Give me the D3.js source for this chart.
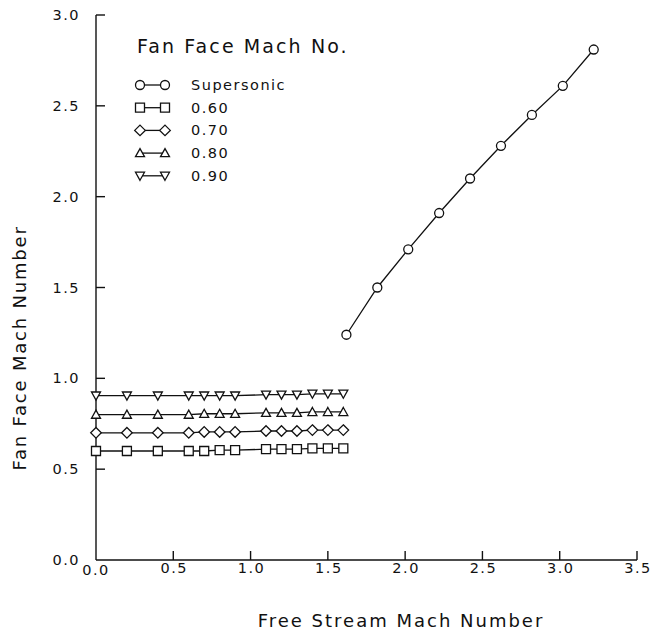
<!DOCTYPE html>
<html>
<head>
<meta charset="utf-8">
<script src="https://cdn.jsdelivr.net/npm/d3@7"></script>
<style>
  html, body { margin: 0; padding: 0; background: #fff; }
  svg { display: block; }
  text { font-family: "DejaVu Sans", sans-serif; fill: #111; }
</style>
</head>
<body>
<div id="chart"></div>
<script>
// ── Data ──
const subsonicX = [0.0, 0.2, 0.4, 0.6, 0.7, 0.8, 0.9, 1.1, 1.2, 1.3, 1.4, 1.5, 1.6];
const mach060 = [0.60, 0.60, 0.60, 0.60, 0.60, 0.605, 0.605, 0.61, 0.61, 0.61, 0.615, 0.615, 0.615];
const mach070 = [0.70, 0.70, 0.70, 0.70, 0.705, 0.705, 0.705, 0.71, 0.71, 0.71, 0.715, 0.715, 0.715];
const mach080 = [0.80, 0.80, 0.80, 0.80, 0.805, 0.805, 0.805, 0.81, 0.81, 0.81, 0.815, 0.815, 0.815];
const mach090 = [0.905, 0.905, 0.905, 0.905, 0.905, 0.905, 0.905, 0.91, 0.91, 0.91, 0.915, 0.915, 0.915];

const superX = [1.62, 1.82, 2.02, 2.22, 2.42, 2.62, 2.82, 3.02, 3.22];
const superY = [1.24, 1.50, 1.71, 1.91, 2.10, 2.28, 2.45, 2.61, 2.81];

const xTicks = [0, 0.5, 1.0, 1.5, 2.0, 2.5, 3.0, 3.5];
const yTicks = [0, 0.5, 1.0, 1.5, 2.0, 2.5, 3.0];

const seriesNames = ["Supersonic", "0.60", "0.70", "0.80", "0.90"];
const seriesSymbols = ["circle", "square", "diamond", "up", "down"];

const series = [
  { name: seriesNames[0], sym: seriesSymbols[0], xs: superX, ys: superY },
  { name: seriesNames[1], sym: seriesSymbols[1], xs: subsonicX, ys: mach060 },
  { name: seriesNames[2], sym: seriesSymbols[2], xs: subsonicX, ys: mach070 },
  { name: seriesNames[3], sym: seriesSymbols[3], xs: subsonicX, ys: mach080 },
  { name: seriesNames[4], sym: seriesSymbols[4], xs: subsonicX, ys: mach090 },
];

const W = 655, H = 642;
const x = d3.scaleLinear().domain([0, 3.5]).range([96, 637]);
const y = d3.scaleLinear().domain([0, 3.0]).range([560, 15]);

const svg = d3.select("#chart").append("svg")
  .attr("width", W).attr("height", H);

// symbol path around (0,0)
function symbolPath(sym) {
  const r = 4.5;
  switch (sym) {
    case "circle": return d3.symbol(d3.symbolCircle, Math.PI * r * r)();
    case "square": return `M${-r},${-r}H${r}V${r}H${-r}Z`;
    case "diamond": return `M0,${-r - 0.8}L${r + 0.8},0L0,${r + 0.8}L${-r - 0.8},0Z`;
    case "up": return `M0,${-r}L${r},${r * 0.8}L${-r},${r * 0.8}Z`;
    case "down": return `M0,${r}L${r},${-r * 0.8}L${-r},${-r * 0.8}Z`;
  }
}

// ── Axes ──
const axisG = svg.append("g").attr("stroke", "#111").attr("stroke-width", 1.4);
axisG.append("line")
  .attr("x1", x(0)).attr("x2", x(0)).attr("y1", y(3.0)).attr("y2", y(0));
axisG.append("line")
  .attr("x1", x(0)).attr("x2", x(3.5)).attr("y1", y(0)).attr("y2", y(0));

for (const t of yTicks.slice(1)) {
  axisG.append("line")
    .attr("x1", x(0)).attr("x2", x(0) + 9).attr("y1", y(t)).attr("y2", y(t));
}
for (const t of xTicks.slice(1)) {
  axisG.append("line")
    .attr("x1", x(t)).attr("x2", x(t)).attr("y1", y(0)).attr("y2", y(0) - 9);
}

svg.append("g").selectAll("text").data(yTicks).join("text")
  .attr("x", 80).attr("y", d => y(d) + 5)
  .attr("text-anchor", "end")
  .attr("font-size", 14.5)
  .attr("letter-spacing", 1.5)
  .text(d => d.toFixed(1));

svg.append("g").selectAll("text").data(xTicks).join("text")
  .attr("x", d => x(d) + (d === 0 ? 0 : 1)).attr("y", d => y(0) + (d === 0 ? 15 : 13))
  .attr("text-anchor", "middle")
  .attr("font-size", 14.5)
  .attr("letter-spacing", 1.5)
  .text(d => d.toFixed(1));

svg.append("text")
  .attr("transform", `translate(26,${348}) rotate(-90)`)
  .attr("text-anchor", "middle")
  .attr("font-size", 18)
  .attr("letter-spacing", 1.8)
  .text("Fan Face Mach Number");

svg.append("text")
  .attr("x", 401).attr("y", 627)
  .attr("text-anchor", "middle")
  .attr("font-size", 18)
  .attr("letter-spacing", 2)
  .text("Free Stream Mach Number");

// ── Series ──
const line = d3.line().x(d => x(d[0])).y(d => y(d[1]));
for (const s of series) {
  const pts = s.xs.map((v, i) => [v, s.ys[i]]);
  const g = svg.append("g");
  g.append("path")
    .attr("d", line(pts))
    .attr("fill", "none").attr("stroke", "#111").attr("stroke-width", 1.3);
  g.selectAll("path.m").data(pts).join("path")
    .attr("class", "m")
    .attr("transform", d => `translate(${x(d[0])},${y(d[1])})`)
    .attr("d", symbolPath(s.sym))
    .attr("fill", "#fff").attr("stroke", "#111").attr("stroke-width", 1.3);
}

// ── Legend ──
const legend = svg.append("g");
legend.append("text")
  .attr("x", 137).attr("y", 53)
  .attr("font-size", 19)
  .attr("letter-spacing", 2.1)
  .text("Fan Face Mach No.");
series.forEach((s, i) => {
  const cy = 85 + i * 22.7;
  legend.append("line")
    .attr("x1", 140).attr("x2", 165).attr("y1", cy).attr("y2", cy)
    .attr("stroke", "#111").attr("stroke-width", 1.3);
  for (const cx of [140, 165]) {
    legend.append("path")
      .attr("transform", `translate(${cx},${cy})`)
      .attr("d", symbolPath(s.sym))
      .attr("fill", "#fff").attr("stroke", "#111").attr("stroke-width", 1.3);
  }
  legend.append("text")
    .attr("x", 191).attr("y", cy + 5)
    .attr("font-size", 14.5)
    .attr("letter-spacing", 1.5)
    .text(s.name);
});
</script>
</body>
</html>
